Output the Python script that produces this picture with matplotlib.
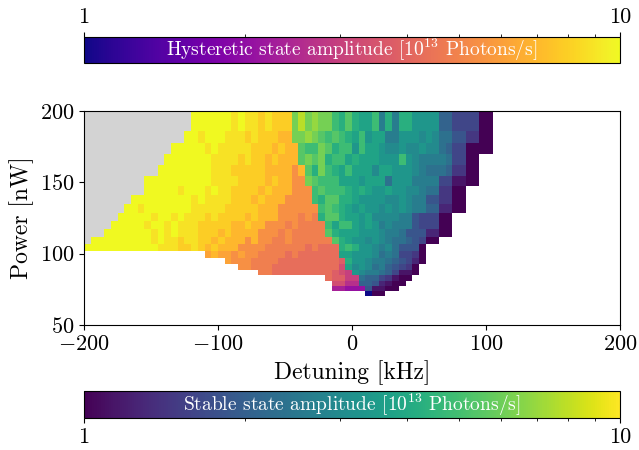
import numpy as np
import matplotlib
matplotlib.use("Agg")
import matplotlib.pyplot as plt
from matplotlib.colors import LogNorm, ListedColormap
from matplotlib.ticker import NullFormatter

plt.rcParams['font.family'] = 'serif'
plt.rcParams['font.serif'] = ['cmr10']
plt.rcParams['mathtext.fontset'] = 'cm'
plt.rcParams['axes.formatter.use_mathtext'] = True
plt.rcParams['font.size'] = 16

# colonnes en detuning : pas de 5 kHz a partir de -200 kHz
detuning_edges = np.arange(-200, 106, 5)
# lignes en puissance (nW), pas logarithmique, du bas vers le haut
power_edges = [70.4, 73.7, 77.2, 80.9, 84.7, 88.7, 92.9, 97.3, 101.9, 106.7,
               111.8, 117.1, 122.6, 128.4, 134.5, 140.9, 147.6, 154.6, 161.9,
               169.6, 177.6, 186.0, 205.0]

# une chaine par ligne de puissance, du HAUT vers le bas
# '#' = gris (pas de donnee), '.' = vide
# A..T = etat hysteretique (plasma), a..t = etat stable (viridis), niveau k/19 en log10
rows_top_down = [
    "#" * 16 + "TTTTTTSTSSRSRRR" + "prpqppnmomllnimi" + "mmkkkkggeeeeaa",
    "#" * 15 + "TTSTTTSSSRSRRRQQ" + "ppqpononmlnkllii" + "kkkjkjhhffddaa",
    "#" * 13 + "TTTTTSTSSSSSRRRQRQQ" + "onnpomnnknllkjj" + "kjjkjjhgeeaaaa",
    "#" * 12 + "TTTTTTTSSSSRSRRQRQQQ" + "opopmnnlmlllkkk" + "nkjiiiiheeaa" + "." * 2,
    "#" * 11 + "TTTTTTTTSSSRRRRRQQQQOQ" + "ompnmlnllljllk" + "kkjihhhgddaa" + "." * 2,
    "#" * 9 + "TTTTTTTTTTSSSSRRRRQRQQOO" + "ponnnlllklllhk" + "kkiiiieebbaa" + "." * 2,
    "#" * 9 + "TTTTTSTTTSTSSRRRRQRQQQOOO" + "nonnnmlmlkklk" + "kjjihhddaa" + "." * 4,
    "#" * 7 + "TTTTTTTTTSTSSSSRRRQRQQQOOOO" + "nmoommlkkkkjj" + "kjiiffddaa" + "." * 4,
    "#" * 6 + "TTSTTTTTTTSSSSSRRRRRQQQOOOOOO" + "nonmlklkkjkj" + "kjiiggccaa" + "." * 4,
    "#" * 5 + "TTTTTSTTSTSSSRSRRRRQRQQQOOONON" + "moomllkljjjj" + "iifeeeaa" + "." * 6,
    "#" * 4 + "TTTTTSTTSTSSSRRRRRQQRQQOOONONNNN" + "nlnnlklkiji" + "iifeeeaa" + "." * 6,
    "#" * 3 + "TTTTTTTSTSTSSSRRRQRQQQQOOONONNNNN" + "omlllkkkjii" + "hfffccaa" + "." * 6,
    "#" * 1 + "TTTTTTTTTSTSSRSSRRQRQQQOQOONNONNNNNN" + "omlkkjkjih" + "hgfeaa" + "." * 8,
    "TTTTTTTTTTTSSSRRSRQRQQQOOOONNNNNNMNMMM" + "mnmkkjijh" + "fffa" + "." * 10,
    "." * 18 + "PQPPOPOONNNNMNMMMMMM" + "llkkkjhih" + "eeda" + "." * 10,
    "." * 21 + "POOONNNNMMMMMMMMML" + "mkkjiihg" + "feca" + "." * 10,
    "." * 23 + "OONNNMMMMMMMMMMK" + "ljkjhigf" + "eda" + "." * 11,
    "." * 26 + "NNMMMMMMMMMLKJ" + "kjiihge" + "bba" + "." * 11,
    "." * 36 + "MLLJJ" + "hggedbaa" + "." * 12,
    "." * 37 + "KKII" + "ggfcbaa" + "." * 13,
    "." * 37 + "HHGGG" + "fbbaa" + "." * 14,
    "." * 42 + "A" + "aa" + "." * 16,
]

rows = rows_top_down[::-1]
nr = len(power_edges) - 1
nc = len(detuning_edges) - 1
assert len(rows) == nr
for r in rows:
    assert len(r) == nc, (len(r), r)

hyst = np.full((nr, nc), np.nan)
stab = np.full((nr, nc), np.nan)
grey = np.full((nr, nc), np.nan)
for i, row in enumerate(rows):
    for j, c in enumerate(row):
        if c == '#':
            grey[i, j] = 1.0
        elif c.isupper():
            hyst[i, j] = 10 ** ((ord(c) - ord('A')) / 19.0)
        elif c.islower():
            stab[i, j] = 10 ** ((ord(c) - ord('a')) / 19.0)

fig = plt.figure(figsize=(6.39, 4.5), dpi=100)
ax = fig.add_axes([0.1315, 0.2778, 0.8385, 0.4755])
cax_top = fig.add_axes([0.1315, 0.860, 0.8385, 0.058])
cax_bot = fig.add_axes([0.1315, 0.071, 0.8385, 0.060])

norm_h = LogNorm(vmin=1, vmax=10)
norm_s = LogNorm(vmin=1, vmax=10)

ax.pcolormesh(detuning_edges, power_edges, np.ma.masked_invalid(grey),
              cmap=ListedColormap(['lightgrey']), linewidth=0, edgecolor='none')
mh = ax.pcolormesh(detuning_edges, power_edges, np.ma.masked_invalid(hyst),
                   cmap='plasma', norm=norm_h, linewidth=0, edgecolor='none')
ms = ax.pcolormesh(detuning_edges, power_edges, np.ma.masked_invalid(stab),
                   cmap='viridis', norm=norm_s, linewidth=0, edgecolor='none')

ax.set_xlim(-200, 200)
ax.set_ylim(50, 200)
ax.set_xticks([-200, -100, 0, 100, 200])
ax.set_yticks([50, 100, 150, 200])
ax.set_xlabel('Detuning [kHz]', fontsize=17)
ax.set_ylabel('Power [nW]', fontsize=17)

# barre du haut : hysteretique
cb1 = fig.colorbar(mh, cax=cax_top, orientation='horizontal')
cax_top.xaxis.set_ticks_position('top')
cax_top.xaxis.set_label_position('top')
cb1.set_ticks([1, 10], labels=['1', '10'])
cax_top.xaxis.set_minor_formatter(NullFormatter())
cax_top.text(0.5, 0.5, r'Hysteretic state amplitude [$10^{13}$ Photons/s]',
             transform=cax_top.transAxes, ha='center', va='center',
             color='white', fontsize=14)

# barre du bas : stable
cb2 = fig.colorbar(ms, cax=cax_bot, orientation='horizontal')
cb2.set_ticks([1, 10], labels=['1', '10'])
cax_bot.xaxis.set_minor_formatter(NullFormatter())
cax_bot.text(0.5, 0.5, r'Stable state amplitude [$10^{13}$ Photons/s]',
             transform=cax_bot.transAxes, ha='center', va='center',
             color='white', fontsize=14)

fig.savefig('out.png', dpi=100)
